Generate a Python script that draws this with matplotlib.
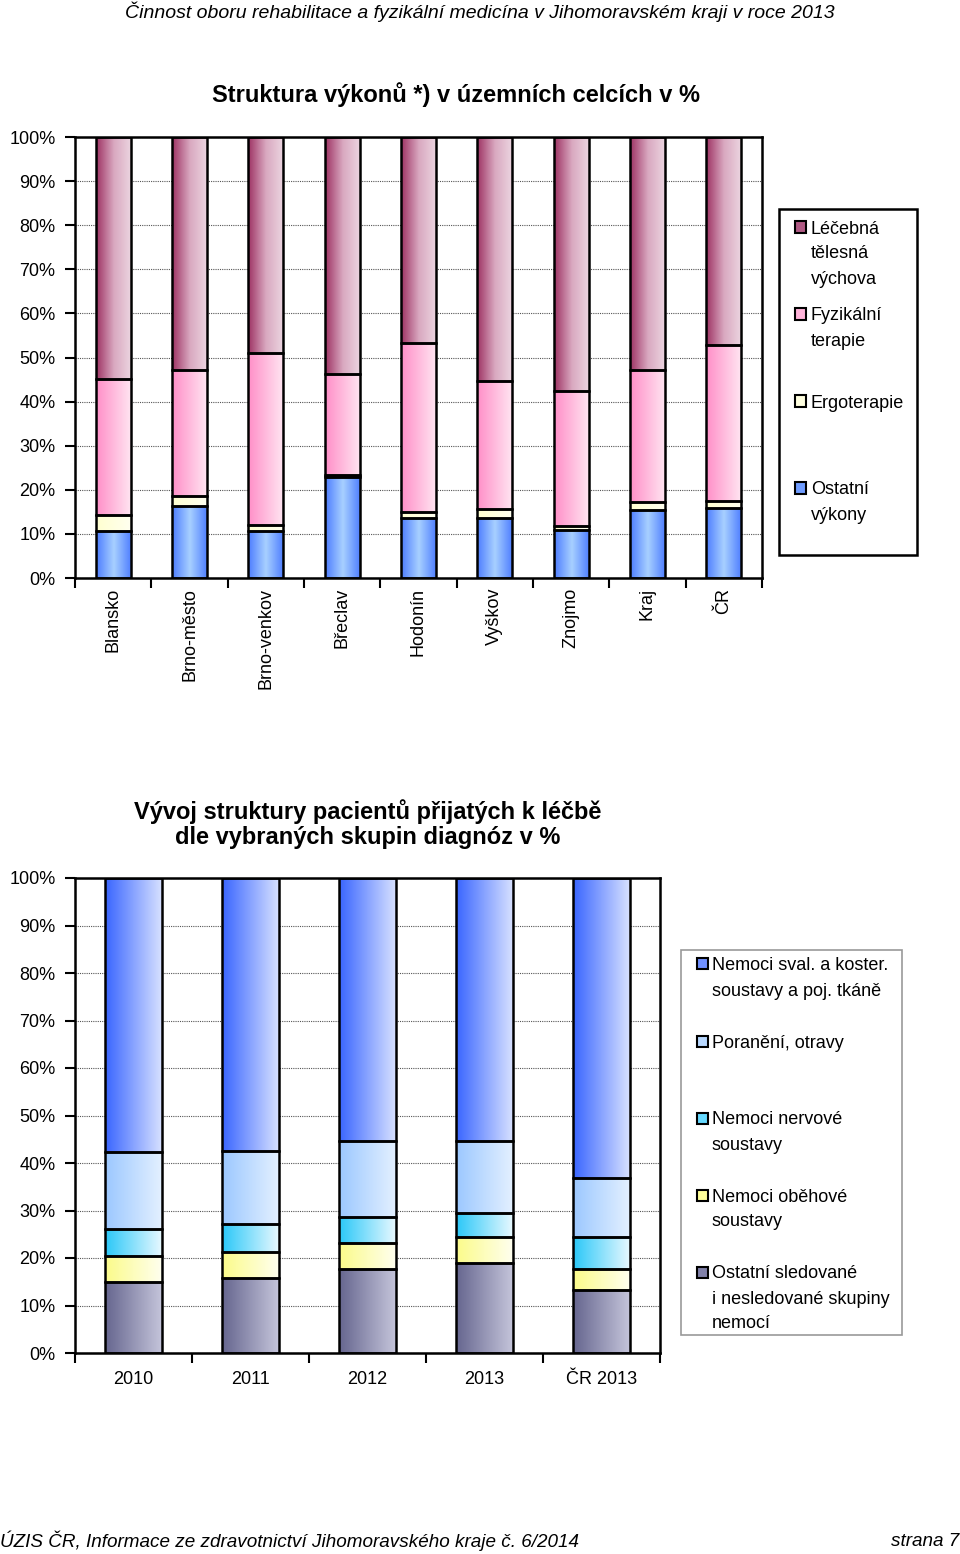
import matplotlib
matplotlib.use("Agg")
import matplotlib.pyplot as plt
from matplotlib.patches import Rectangle
from matplotlib.colors import LinearSegmentedColormap
import numpy as np

WIDE = ['Liberation Sans', 'DejaVu Sans']
plt.rcParams['font.family'] = WIDE

# --- top chart data (% of services by district) ---
districts = ['Blansko', 'Brno-město', 'Brno-venkov', 'Břeclav', 'Hodonín',
             'Vyškov', 'Znojmo', 'Kraj', 'ČR']
ostatni_vykony = [10.7, 16.4, 10.7, 23.0, 13.7, 13.5, 10.9, 15.4, 15.8]
ergoterapie = [3.6, 2.3, 1.4, 0.4, 1.2, 2.1, 0.8, 1.8, 1.7]
fyzikalni = [30.8, 28.4, 39.0, 22.8, 38.3, 29.1, 30.7, 30.0, 35.3]
lecebna = [54.9, 52.9, 48.9, 53.8, 46.8, 55.3, 57.6, 52.8, 47.2]
top_labels = ['Ostatní\nvýkony', 'Ergoterapie', 'Fyzikální\nterapie',
              'Léčebná\ntělesná\nvýchova']

# --- bottom chart data (% of admitted patients by diagnosis group) ---
years = ['2010', '2011', '2012', '2013', 'ČR 2013']
ostatni_skup = [15.0, 15.7, 17.6, 18.9, 13.3]
obehove = [5.4, 5.6, 5.5, 5.5, 4.4]
nervove = [5.8, 5.8, 5.5, 5.0, 6.8]
poraneni = [16.2, 15.5, 16.0, 15.2, 12.3]
svalove = [57.6, 57.4, 55.4, 55.4, 63.2]
bottom_labels = ['Ostatní sledované\ni nesledované skupiny\nnemocí',
                 'Nemoci oběhové\nsoustavy', 'Nemoci nervové\nsoustavy',
                 'Poranění, otravy',
                 'Nemoci sval. a koster.\nsoustavy a poj. tkáně']

# gradient colours (left -> right), legend colour
top_styles = [
    (['#4d7dff', '#a8d0ff', '#4d7dff'], '#6f9cff'),
    (['#ffffd0', '#fffff0'], '#ffffe0'),
    (['#ff8fc8', '#ffe6f2'], '#ffb3d9'),
    (['#9e3364', '#d9a8c0', '#ecd6e1'], '#b05a84'),
]
bottom_styles = [
    (['#66668f', '#c4c4da'], '#8080a8'),
    (['#fbfb8a', '#ffffee'], '#ffff99'),
    (['#2bc8f8', '#e6f8ff'], '#66d9ff'),
    (['#9cc8ff', '#e3f0ff'], '#b8d8ff'),
    (['#3a66ff', '#d6e0ff'], '#7090ff'),
]

FS = 13


def gradient_bars(ax, x, heights, bottoms, width, colors):
    bars = ax.bar(x, heights, width, bottom=bottoms, color='none',
                  edgecolor='black', linewidth=1.8, zorder=3)
    cmap = LinearSegmentedColormap.from_list('g', colors)
    grad = np.linspace(0, 1, 64).reshape(1, -1)
    for b in bars:
        x0, y0 = b.get_x(), b.get_y()
        ax.imshow(grad, cmap=cmap, aspect='auto', zorder=2,
                  extent=(x0, x0 + b.get_width(), y0, y0 + b.get_height()))
    return bars


def style_axes(ax, n):
    ax.set_xlim(-0.5, n - 0.5)
    ax.set_ylim(0, 100)
    ax.set_yticks(np.arange(0, 101, 10))
    ax.set_yticklabels([f'{v}%' for v in range(0, 101, 10)], fontsize=FS)
    ax.yaxis.grid(True, linestyle=(0, (1, 1)), color='#555555', linewidth=0.8, zorder=0)
    ax.set_axisbelow(True)
    ax.set_xticks(np.arange(-0.5, n, 1.0))
    ax.set_xticklabels([])
    ax.tick_params(axis='both', direction='out', length=7, width=1.5, pad=7)
    for s in ax.spines.values():
        s.set_linewidth(1.8)


def px(x, y):
    return x / 960, 1 - y / 1554


def manual_legend(box, entries, edge, lw, sq_x, txt_x):
    # box = (x0, y0, x1, y1) in pixels; entries = [(colour, label, first line y)]
    x0, y0, x1, y1 = box
    fig.patches.append(Rectangle(px(x0, y1), (x1 - x0) / 960, (y1 - y0) / 1554,
                                 transform=fig.transFigure, facecolor='white',
                                 edgecolor=edge, linewidth=lw))
    for colour, label, ly in entries:
        fig.patches.append(Rectangle(px(sq_x, ly + 5.5), 11 / 960, 11 / 1554,
                                     transform=fig.transFigure, facecolor=colour,
                                     edgecolor='black', linewidth=1.5))
        for i, line in enumerate(label.split('\n')):
            fig.text(*px(txt_x, ly + 2 + 25 * i), line, ha='left', va='center', fontsize=FS)


fig = plt.figure(figsize=(9.6, 15.54), dpi=100)

fig.text(0.5, 1 - 12 / 1554, 'Činnost oboru rehabilitace a fyzikální medicína v Jihomoravském kraji v roce 2013',
         ha='center', va='center', fontsize=14, style='italic')
fig.text(0.0, 1 - 1541 / 1554, 'ÚZIS ČR, Informace ze zdravotnictví Jihomoravského kraje č. 6/2014',
         ha='left', va='center', fontsize=13.6, style='italic')
fig.text(0.999, 1 - 1541 / 1554, 'strana 7', ha='right', va='center',
         fontsize=13.6, style='italic')

# ---------------- top chart ----------------
ax1 = fig.add_axes([75 / 960, 1 - 578 / 1554, 687 / 960, 441 / 1554])
xs = np.arange(len(districts))
series = [ostatni_vykony, ergoterapie, fyzikalni, lecebna]
bottom = np.zeros(len(districts))
for vals, (cols, _) in zip(series, top_styles):
    gradient_bars(ax1, xs, vals, bottom, 0.46, cols)
    bottom = bottom + np.array(vals)
style_axes(ax1, len(districts))
ax1.set_xticks(xs, minor=True)
ax1.set_xticklabels(districts, minor=True, rotation=90, fontsize=FS, va='top', ha='center')
ax1.tick_params(axis='x', which='minor', length=0, pad=7)
fig.text(456 / 960, 1 - 95 / 1554, 'Struktura výkonů *) v územních celcích v %',
         ha='center', va='center', fontsize=17, fontweight='bold')

top_y = [488, 401, 314, 227]
manual_legend((779, 209, 917, 555),
              [(c, l, y) for (_, c), l, y in zip(top_styles, top_labels, top_y)][::-1],
              'black', 1.8, 795, 811)

# ---------------- bottom chart ----------------
ax2 = fig.add_axes([75 / 960, 1 - 1353 / 1554, 585 / 960, 475 / 1554])
xs2 = np.arange(len(years))
series2 = [ostatni_skup, obehove, nervove, poraneni, svalove]
bottom = np.zeros(len(years))
for vals, (cols, _) in zip(series2, bottom_styles):
    gradient_bars(ax2, xs2, vals, bottom, 0.48, cols)
    bottom = bottom + np.array(vals)
style_axes(ax2, len(years))
ax2.set_xticks(xs2, minor=True)
ax2.set_xticklabels(years, minor=True, fontsize=FS)
ax2.tick_params(axis='x', which='minor', length=0, pad=13)
fig.text(368 / 960, 1 - 824 / 1554, 'Vývoj struktury pacientů přijatých k léčbě\ndle vybraných skupin diagnóz v %',
         ha='center', va='center', fontsize=17, fontweight='bold', linespacing=1.1)

bottom_y = [1272, 1195, 1118, 1041, 964]
manual_legend((681, 950, 902, 1335),
              [(c, l, y) for (_, c), l, y in zip(bottom_styles, bottom_labels, bottom_y)][::-1],
              '#999999', 1.2, 697, 712)

fig.savefig('out.png', dpi=100)
